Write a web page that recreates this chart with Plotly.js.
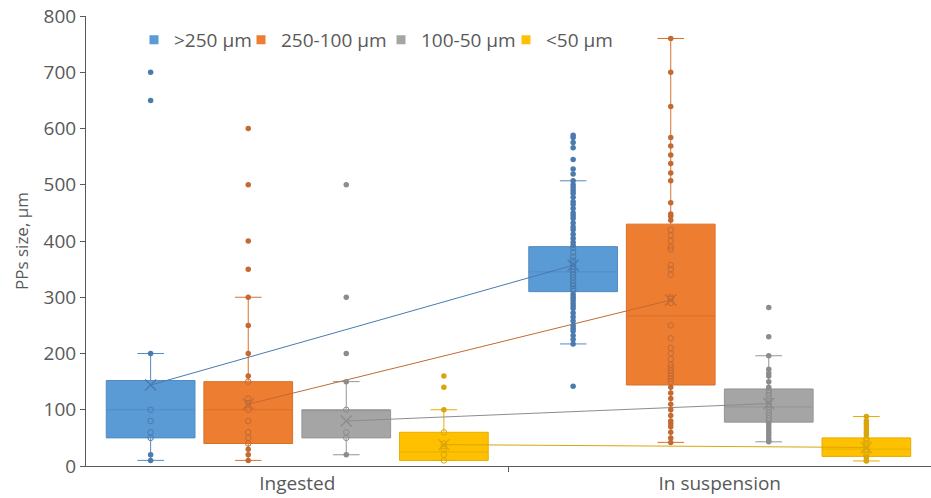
<!DOCTYPE html>
<html><head><meta charset="utf-8">
<script src="https://cdn.plot.ly/plotly-3.0.1.min.js"></script>
<style>html,body{margin:0;padding:0;background:#fff}#chart{width:931px;height:498px}</style>
</head><body><div id="chart"></div>
<script>
const categories = ['Ingested', 'In suspension'];
const seriesNames = ['>250 µm', '250-100 µm', '100-50 µm', '<50 µm'];
const yTickVals = [0, 100, 200, 300, 400, 500, 600, 700, 800];

// box statistics per series: [Ingested, In suspension]
const lowerWhisker = [[10, 217], [10, 42], [20, 43], [10, 9]];
const q1Values     = [[50, 310], [40, 144], [50, 78], [10, 17]];
const medianValues = [[100, 345], [100, 267], [100, 105], [25, 30]];
const q3Values     = [[152, 390], [150, 430], [100, 137], [60, 50]];
const upperWhisker = [[200, 507], [300, 760], [150, 196], [100, 88]];
const meanValues   = [[144, 357], [110, 295], [80, 111], [38, 33]];

// individual points
const pointsIngested250 = [700, 650, 200, 100, 80, 60, 50, 20, 10];
const pointsIngested100 = [600, 500, 400, 350, 300, 250, 200, 160, 150, 120, 112, 100, 80, 60, 50, 40, 30, 20, 10];
const pointsIngested50  = [500, 300, 200, 150, 100, 60, 50, 20];
const pointsIngestedLt  = [160, 140, 100, 60, 40, 35, 30, 20, 10];
const pointsSusp250 = [588, 584, 575, 566, 545, 528, 519, 507, 500, 495, 490, 485, 478, 470, 465, 458, 450, 445, 440, 432, 425, 420, 412, 405, 398, 392,
  388, 380, 372, 365, 360, 355, 350, 345, 340, 335, 330, 325, 320, 315, 312,
  305, 300, 295, 290, 285, 280, 272, 265, 258, 250, 245, 240, 232, 225, 217, 142];
const pointsSusp100 = [760, 700, 639, 584, 569, 553, 538, 521, 507, 468, 448, 444, 437,
  420, 410, 400, 390, 385, 357, 350, 340, 300, 297, 290, 250, 227, 210, 200, 190, 180, 175, 170, 165, 160, 155, 150,
  140, 130, 120, 110, 100, 90, 80, 75, 70, 60, 50, 42];
const pointsSusp50 = [282, 230, 196, 172, 165, 160, 150, 140,
  135, 130, 125, 120, 115, 110, 105, 100, 95, 90, 85, 80,
  75, 70, 65, 60, 55, 50, 45, 43];
const pointsSuspLt = [88, 80, 75, 70, 65, 60, 55, 48, 45, 40, 35, 30, 25, 20, 15, 10, 9];

const pointSets = [
  [pointsIngested250, pointsSusp250],
  [pointsIngested100, pointsSusp100],
  [pointsIngested50, pointsSusp50],
  [pointsIngestedLt, pointsSuspLt]
];

const fillColors = ['#5B9BD5', '#ED7D31', '#A5A5A5', '#FFC000'];
const edgeColors = ['#4F8BC4', '#D9712B', '#959595', '#E8AE00'];
const dotColors  = ['#4A7AAE', '#C26A32', '#8C8C8C', '#D9A60A'];
const offsets = [-0.347, -0.116, 0.116, 0.347];
const boxWidth = 0.21;

const traces = [];
// boxes
seriesNames.forEach((name, s) => {
  traces.push({
    type: 'box', orientation: 'v', name: name, showlegend: false,
    x: categories.map((c, i) => i + offsets[s]),
    q1: q1Values[s], median: medianValues[s], q3: q3Values[s],
    lowerfence: lowerWhisker[s], upperfence: upperWhisker[s],
    boxpoints: false, width: boxWidth, whiskerwidth: 0.3,
    fillcolor: fillColors[s], line: {color: edgeColors[s], width: 1},
    hoverinfo: 'y'
  });
});
// mean lines
seriesNames.forEach((name, s) => {
  traces.push({
    type: 'scatter', mode: 'lines', showlegend: false, hoverinfo: 'skip',
    x: categories.map((c, i) => i + offsets[s]), y: meanValues[s],
    line: {color: dotColors[s], width: 1}
  });
});
// points
seriesNames.forEach((name, s) => {
  categories.forEach((c, i) => {
    const vals = pointSets[s][i];
    const inner = vals.filter(v => v >= q1Values[s][i] && v <= q3Values[s][i]);
    const outer = vals.filter(v => v < q1Values[s][i] || v > q3Values[s][i]);
    traces.push({
      type: 'scatter', mode: 'markers', showlegend: false, hoverinfo: 'y',
      x: outer.map(() => i + offsets[s]), y: outer,
      marker: {symbol: 'circle', size: 5.5, color: dotColors[s]}
    });
    traces.push({
      type: 'scatter', mode: 'markers', showlegend: false, hoverinfo: 'y',
      x: inner.map(() => i + offsets[s]), y: inner,
      marker: {symbol: 'circle-open', size: 5.5, color: dotColors[s], line: {width: 1, color: dotColors[s]}}
    });
  });
});
// mean markers
seriesNames.forEach((name, s) => {
  traces.push({
    type: 'scatter', mode: 'markers', showlegend: false, hoverinfo: 'y',
    x: categories.map((c, i) => i + offsets[s]), y: meanValues[s],
    marker: {symbol: 'x-thin-open', size: 11, color: dotColors[s], line: {width: 1.3, color: dotColors[s]}}
  });
});
// legend entries
const legendIds = ['legend', 'legend2', 'legend3', 'legend4'];
seriesNames.forEach((name, s) => {
  traces.push({
    type: 'scatter', mode: 'markers', name: name, legend: legendIds[s],
    x: [null], y: [null],
    marker: {symbol: 'square', size: 9, color: fillColors[s]}
  });
});

const legendPx = [134, 241, 381, 506];
const legendBase = {orientation: 'h', xanchor: 'left', yanchor: 'middle', y: 0.947,
  font: {family: 'Open Sans, sans-serif', size: 19, color: '#595959'}, bgcolor: 'rgba(0,0,0,0)', borderwidth: 0};

const layout = {
  width: 931, height: 498,
  margin: {l: 86, r: 0, t: 16, b: 32},
  paper_bgcolor: '#fff', plot_bgcolor: '#fff',
  font: {family: 'Open Sans, sans-serif', color: '#595959'},
  xaxis: {
    type: 'linear', range: [-0.5, 1.5], tickvals: [0, 1], ticktext: categories,
    ticks: '', showgrid: false, zeroline: false, showline: true, linecolor: '#595959', linewidth: 1,
    tickfont: {size: 19, color: '#595959'},
    minor: {tickvals: [0.5], ticks: 'outside', ticklen: 5, tickcolor: '#595959', showgrid: false}
  },
  yaxis: {
    range: [0, 800], tickvals: yTickVals, ticks: 'outside', ticklen: 5, tickcolor: '#595959',
    showgrid: false, zeroline: false, showline: true, linecolor: '#595959', linewidth: 1,
    tickfont: {size: 19, color: '#595959'},
    title: {text: 'PPs size, µm', font: {size: 17, color: '#595959'}, standoff: 10}
  },
  showlegend: true
};
legendIds.forEach((id, s) => {
  layout[id] = Object.assign({}, legendBase, {x: (legendPx[s] - 86) / 845});
});

Plotly.newPlot('chart', traces, layout, {displayModeBar: false, staticPlot: true});
</script></body></html>
